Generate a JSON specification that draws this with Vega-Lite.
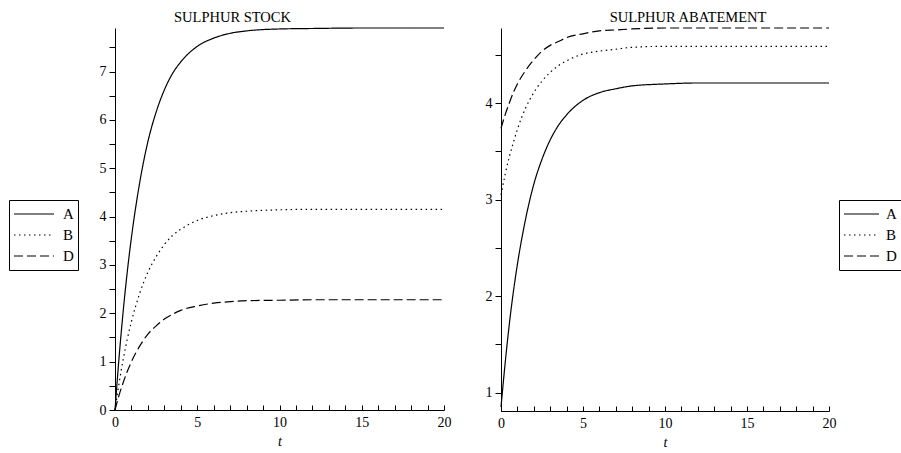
{
  "$schema": "https://vega.github.io/schema/vega-lite/v6.json",
  "background": "white",
  "padding": {"left": 8, "top": 10, "right": 0, "bottom": 0},
  "config": {
    "font": "Liberation Serif",
    "view": {"stroke": null},
    "title": {"font": "Liberation Serif", "fontSize": 14.5, "fontWeight": "normal", "color": "black", "anchor": "middle", "offset": 0},
    "axis": {"grid": false, "domainColor": "black", "tickColor": "black", "labelColor": "black", "labelFont": "Liberation Serif", "labelFontSize": 14, "titleFont": "Liberation Serif", "titleFontSize": 14, "titleFontStyle": "italic", "titleFontWeight": "normal", "titleColor": "black", "domainWidth": 1, "tickWidth": 1},
    "legend": {"strokeColor": "black", "padding": 4, "labelFont": "Liberation Serif", "labelFontSize": 15, "labelColor": "black", "symbolStrokeColor": "black", "symbolStrokeWidth": 1.2, "symbolType": "stroke", "symbolSize": 1600, "clipHeight": 20, "rowPadding": 1, "labelOffset": 8, "titleOpacity": 0}
  },
  "datasets": {
    "d": [
      {"panel": "S", "series": "A", "t": 0, "v": 0}, {"panel": "S", "series": "A", "t": 0.25, "v": 1.1}, {"panel": "S", "series": "A", "t": 0.5, "v": 2.05}, {"panel": "S", "series": "A", "t": 0.75, "v": 2.87}, {"panel": "S", "series": "A", "t": 1, "v": 3.57}, {"panel": "S", "series": "A", "t": 1.5, "v": 4.7}, {"panel": "S", "series": "A", "t": 2, "v": 5.55}, {"panel": "S", "series": "A", "t": 2.5, "v": 6.16}, {"panel": "S", "series": "A", "t": 3, "v": 6.62}, {"panel": "S", "series": "A", "t": 3.5, "v": 6.96}, {"panel": "S", "series": "A", "t": 4, "v": 7.2}, {"panel": "S", "series": "A", "t": 5, "v": 7.52}, {"panel": "S", "series": "A", "t": 6, "v": 7.69}, {"panel": "S", "series": "A", "t": 7, "v": 7.79}, {"panel": "S", "series": "A", "t": 8, "v": 7.84}, {"panel": "S", "series": "A", "t": 10, "v": 7.88}, {"panel": "S", "series": "A", "t": 12, "v": 7.89}, {"panel": "S", "series": "A", "t": 15, "v": 7.9}, {"panel": "S", "series": "A", "t": 20, "v": 7.9},
      {"panel": "S", "series": "B", "t": 0, "v": 0}, {"panel": "S", "series": "B", "t": 0.25, "v": 0.56}, {"panel": "S", "series": "B", "t": 0.5, "v": 1.05}, {"panel": "S", "series": "B", "t": 0.75, "v": 1.47}, {"panel": "S", "series": "B", "t": 1, "v": 1.83}, {"panel": "S", "series": "B", "t": 1.5, "v": 2.41}, {"panel": "S", "series": "B", "t": 2, "v": 2.85}, {"panel": "S", "series": "B", "t": 2.5, "v": 3.17}, {"panel": "S", "series": "B", "t": 3, "v": 3.42}, {"panel": "S", "series": "B", "t": 3.5, "v": 3.61}, {"panel": "S", "series": "B", "t": 4, "v": 3.74}, {"panel": "S", "series": "B", "t": 5, "v": 3.92}, {"panel": "S", "series": "B", "t": 6, "v": 4.02}, {"panel": "S", "series": "B", "t": 7, "v": 4.08}, {"panel": "S", "series": "B", "t": 8, "v": 4.11}, {"panel": "S", "series": "B", "t": 10, "v": 4.14}, {"panel": "S", "series": "B", "t": 12, "v": 4.15}, {"panel": "S", "series": "B", "t": 15, "v": 4.15}, {"panel": "S", "series": "B", "t": 20, "v": 4.15},
      {"panel": "S", "series": "D", "t": 0, "v": 0}, {"panel": "S", "series": "D", "t": 0.25, "v": 0.31}, {"panel": "S", "series": "D", "t": 0.5, "v": 0.57}, {"panel": "S", "series": "D", "t": 0.75, "v": 0.8}, {"panel": "S", "series": "D", "t": 1, "v": 1.0}, {"panel": "S", "series": "D", "t": 1.5, "v": 1.32}, {"panel": "S", "series": "D", "t": 2, "v": 1.57}, {"panel": "S", "series": "D", "t": 2.5, "v": 1.74}, {"panel": "S", "series": "D", "t": 3, "v": 1.88}, {"panel": "S", "series": "D", "t": 3.5, "v": 1.98}, {"panel": "S", "series": "D", "t": 4, "v": 2.06}, {"panel": "S", "series": "D", "t": 5, "v": 2.15}, {"panel": "S", "series": "D", "t": 6, "v": 2.21}, {"panel": "S", "series": "D", "t": 7, "v": 2.24}, {"panel": "S", "series": "D", "t": 8, "v": 2.26}, {"panel": "S", "series": "D", "t": 10, "v": 2.27}, {"panel": "S", "series": "D", "t": 12, "v": 2.28}, {"panel": "S", "series": "D", "t": 15, "v": 2.28}, {"panel": "S", "series": "D", "t": 20, "v": 2.28},
      {"panel": "R", "series": "A", "t": 0, "v": 0.85}, {"panel": "R", "series": "A", "t": 0.25, "v": 1.3}, {"panel": "R", "series": "A", "t": 0.5, "v": 1.7}, {"panel": "R", "series": "A", "t": 0.75, "v": 2.04}, {"panel": "R", "series": "A", "t": 1, "v": 2.33}, {"panel": "R", "series": "A", "t": 1.5, "v": 2.8}, {"panel": "R", "series": "A", "t": 2, "v": 3.16}, {"panel": "R", "series": "A", "t": 2.5, "v": 3.42}, {"panel": "R", "series": "A", "t": 3, "v": 3.62}, {"panel": "R", "series": "A", "t": 3.5, "v": 3.77}, {"panel": "R", "series": "A", "t": 4, "v": 3.88}, {"panel": "R", "series": "A", "t": 5, "v": 4.03}, {"panel": "R", "series": "A", "t": 6, "v": 4.11}, {"panel": "R", "series": "A", "t": 7, "v": 4.15}, {"panel": "R", "series": "A", "t": 8, "v": 4.18}, {"panel": "R", "series": "A", "t": 10, "v": 4.2}, {"panel": "R", "series": "A", "t": 12, "v": 4.21}, {"panel": "R", "series": "A", "t": 15, "v": 4.21}, {"panel": "R", "series": "A", "t": 20, "v": 4.21},
      {"panel": "R", "series": "B", "t": 0, "v": 3.05}, {"panel": "R", "series": "B", "t": 0.25, "v": 3.26}, {"panel": "R", "series": "B", "t": 0.5, "v": 3.44}, {"panel": "R", "series": "B", "t": 0.75, "v": 3.59}, {"panel": "R", "series": "B", "t": 1, "v": 3.73}, {"panel": "R", "series": "B", "t": 1.5, "v": 3.95}, {"panel": "R", "series": "B", "t": 2, "v": 4.11}, {"panel": "R", "series": "B", "t": 2.5, "v": 4.23}, {"panel": "R", "series": "B", "t": 3, "v": 4.32}, {"panel": "R", "series": "B", "t": 3.5, "v": 4.39}, {"panel": "R", "series": "B", "t": 4, "v": 4.44}, {"panel": "R", "series": "B", "t": 5, "v": 4.51}, {"panel": "R", "series": "B", "t": 6, "v": 4.54}, {"panel": "R", "series": "B", "t": 7, "v": 4.56}, {"panel": "R", "series": "B", "t": 8, "v": 4.58}, {"panel": "R", "series": "B", "t": 10, "v": 4.59}, {"panel": "R", "series": "B", "t": 12, "v": 4.59}, {"panel": "R", "series": "B", "t": 15, "v": 4.59}, {"panel": "R", "series": "B", "t": 20, "v": 4.59},
      {"panel": "R", "series": "D", "t": 0, "v": 3.74}, {"panel": "R", "series": "D", "t": 0.25, "v": 3.88}, {"panel": "R", "series": "D", "t": 0.5, "v": 4.0}, {"panel": "R", "series": "D", "t": 0.75, "v": 4.11}, {"panel": "R", "series": "D", "t": 1, "v": 4.2}, {"panel": "R", "series": "D", "t": 1.5, "v": 4.34}, {"panel": "R", "series": "D", "t": 2, "v": 4.45}, {"panel": "R", "series": "D", "t": 2.5, "v": 4.54}, {"panel": "R", "series": "D", "t": 3, "v": 4.6}, {"panel": "R", "series": "D", "t": 3.5, "v": 4.64}, {"panel": "R", "series": "D", "t": 4, "v": 4.68}, {"panel": "R", "series": "D", "t": 5, "v": 4.72}, {"panel": "R", "series": "D", "t": 6, "v": 4.75}, {"panel": "R", "series": "D", "t": 7, "v": 4.76}, {"panel": "R", "series": "D", "t": 8, "v": 4.77}, {"panel": "R", "series": "D", "t": 10, "v": 4.78}, {"panel": "R", "series": "D", "t": 12, "v": 4.78}, {"panel": "R", "series": "D", "t": 15, "v": 4.78}, {"panel": "R", "series": "D", "t": 20, "v": 4.78}
    ]
  },
  "spacing": 34,
  "resolve": {"legend": {"strokeDash": "independent"}, "scale": {"y": "independent", "strokeDash": "independent"}},
  "hconcat": [
    {
      "title": {"text": "SULPHUR STOCK", "dx": -47, "dy": 4},
      "width": 329,
      "height": 382,
      "data": {"name": "d"},
      "transform": [{"filter": "datum.panel === 'S'"}],
      "mark": {"type": "line", "color": "black", "strokeWidth": 1.2, "interpolate": "monotone"},
      "encoding": {
        "x": {"field": "t", "type": "quantitative", "title": "t", "scale": {"domain": [0, 20], "nice": false},
          "axis": {"values": [0,1,2,3,4,5,6,7,8,9,10,11,12,13,14,15,16,17,18,19,20], "labelExpr": "datum.value % 5 === 0 ? format(datum.value, 'd') : ''", "labelFont": "Liberation Serif", "tickSize": -5, "labelPadding": 10, "titlePadding": 5, "labelFlush": false}},
        "y": {"field": "v", "type": "quantitative", "title": null, "scale": {"domain": [0, 7.9], "nice": false, "zero": false},
          "axis": {"values": [0,0.5,1,1.5,2,2.5,3,3.5,4,4.5,5,5.5,6,6.5,7,7.5], "labelExpr": "datum.value % 1 === 0 ? format(datum.value, 'd') : ''", "labelFont": "Liberation Serif", "tickSize": 6, "labelPadding": 3}},
        "strokeDash": {"field": "series", "type": "nominal",
          "scale": {"domain": ["A", "B", "D"], "range": [[1, 0], [1.5, 3.5], [9, 4]]},
          "legend": {"orient": "none", "legendX": -106, "legendY": 172, "title": null}}
      }
    },
    {
      "title": {"text": "SULPHUR ABATEMENT", "dx": 23, "dy": 4},
      "width": 328,
      "height": 383,
      "data": {"name": "d"},
      "transform": [{"filter": "datum.panel === 'R'"}],
      "mark": {"type": "line", "color": "black", "strokeWidth": 1.2, "interpolate": "monotone"},
      "encoding": {
        "x": {"field": "t", "type": "quantitative", "title": "t", "scale": {"domain": [0, 20], "nice": false},
          "axis": {"values": [0,1,2,3,4,5,6,7,8,9,10,11,12,13,14,15,16,17,18,19,20], "labelExpr": "datum.value % 5 === 0 ? format(datum.value, 'd') : ''", "labelFont": "Liberation Serif", "tickSize": -5, "labelPadding": 10, "titlePadding": 5, "labelFlush": false}},
        "y": {"field": "v", "type": "quantitative", "title": null, "scale": {"domain": [0.81, 4.78], "nice": false, "zero": false},
          "axis": {"values": [1,1.5,2,2.5,3,3.5,4,4.5], "labelExpr": "datum.value % 1 === 0 ? format(datum.value, 'd') : ''", "labelFont": "Liberation Serif", "tickSize": 6, "labelPadding": 3}},
        "strokeDash": {"field": "series", "type": "nominal",
          "scale": {"domain": ["A", "B", "D"], "range": [[1, 0], [1.5, 3.5], [9, 4]]},
          "legend": {"orient": "none", "legendX": 338, "legendY": 172, "title": null, "symbolSize": 1225, "labelOffset": 6}}
      }
    }
  ]
}
